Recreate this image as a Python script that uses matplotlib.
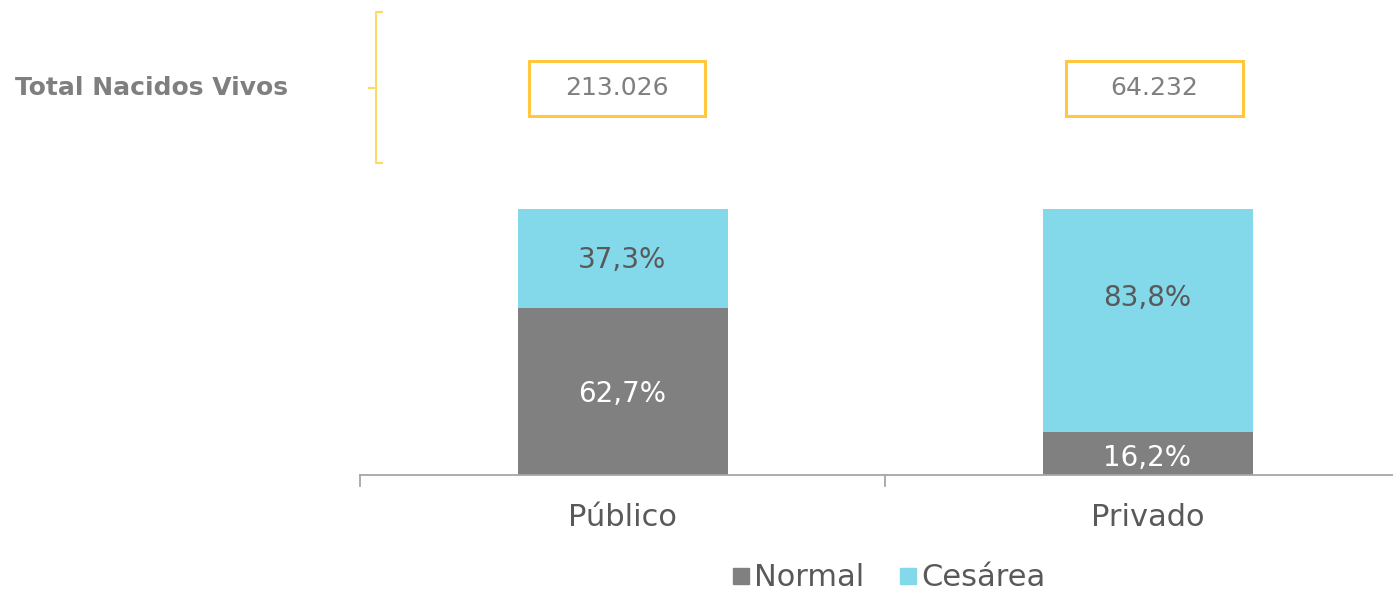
import matplotlib
matplotlib.use("Agg")
import matplotlib.pyplot as plt
from matplotlib.lines import Line2D
from matplotlib.patches import Rectangle

categories = ["Público", "Privado"]
normal = [62.7, 16.2]
cesarea = [37.3, 83.8]
totals = ["213.026", "64.232"]
series_names = ["Normal", "Cesárea"]

C_NORMAL = "#808080"
C_CES = "#83D8EA"
TXT = "#595959"
GOLD = "#FFC83D"
GOLD_L = "#FFD966"
FONT = ["DejaVu Sans"]

# label vertical nudges in points (layout only)
normal_dy = [-2, -3]
ces_dy = [-1, 16]

W, H = 1393, 590
fig = plt.figure(figsize=(W / 100, H / 100), dpi=100)
plt.rcParams["font.family"] = FONT


def fx(px):
    return px / W


def fy(py):
    return 1 - py / H


ax_left = 360 / W
ax_w = (W - 360) / W
ax_bottom = 1 - 475 / H
ax_h = (475 - 209) / H
ax = fig.add_axes([ax_left, ax_bottom, ax_w, ax_h])

x = list(range(len(categories)))
ax.bar(x, normal, width=0.4, color=C_NORMAL, zorder=2)
ax.bar(x, cesarea, width=0.4, bottom=normal, color=C_CES, zorder=2)

ax.set_xlim(-0.5, -0.5 + (W - 360) / 525)
ax.set_ylim(0, 100)
ax.set_yticks([])
ax.set_xticks([])
for s in ["top", "right", "left"]:
    ax.spines[s].set_visible(False)
ax.spines["bottom"].set_color("#A6A6A6")
ax.spines["bottom"].set_linewidth(1.3)

for t in [-0.5, 0.5, 1.5]:
    ax.plot([t, t], [0, -4], color="#A6A6A6", lw=1.3, clip_on=False)

for i, cat in enumerate(categories):
    ax.text(i, -15.8, cat, ha="center", va="center", fontsize=22, color=TXT)
    ax.annotate(f"{normal[i]:.1f}".replace(".", ",") + "%", (i, normal[i] / 2),
                xytext=(0, normal_dy[i]), textcoords="offset points",
                ha="center", va="center", fontsize=20, color="white", zorder=3)
    ax.annotate(f"{cesarea[i]:.1f}".replace(".", ",") + "%",
                (i, normal[i] + cesarea[i] / 2),
                xytext=(0, ces_dy[i]), textcoords="offset points",
                ha="center", va="center", fontsize=20, color=TXT, zorder=3)

# total boxes
box_y = fy(88)
box_centers = [617, 1154]
for i, tot in enumerate(totals):
    xc = fx(box_centers[i])
    bw, bh = 177 / W, 55 / H
    fig.patches.append(Rectangle((xc - bw / 2, box_y - bh / 2), bw, bh,
                                 transform=fig.transFigure, fill=False,
                                 edgecolor=GOLD, lw=2.2))
    fig.text(xc, box_y, tot, ha="center", va="center", fontsize=18, color="#7F7F7F")

# bracket
fig.add_artist(Line2D([fx(382), fx(376), fx(376), fx(382)],
                      [fy(12), fy(12), fy(163), fy(163)],
                      color=GOLD_L, lw=1.5, transform=fig.transFigure))
fig.add_artist(Line2D([fx(369), fx(376)], [fy(88), fy(88)],
                      color=GOLD_L, lw=1.5, transform=fig.transFigure))

fig.text(fx(15), fy(88), "Total Nacidos Vivos", ha="left", va="center",
         fontsize=18, fontweight="bold", color="#7F7F7F")

handles = [Line2D([], [], marker="s", ls="", color=C_NORMAL, markersize=12),
           Line2D([], [], marker="s", ls="", color=C_CES, markersize=12)]
leg = fig.legend(handles, series_names, loc="center", bbox_to_anchor=(fx(887), fy(578)),
                 ncol=2, frameon=False, fontsize=22, handletextpad=0.05,
                 columnspacing=1.0, handlelength=0.8, borderaxespad=0)
for t in leg.get_texts():
    t.set_color(TXT)

fig.savefig("out.png", dpi=100)
